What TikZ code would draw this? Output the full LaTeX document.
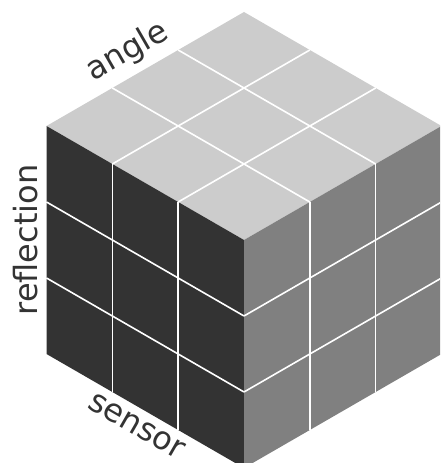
\documentclass[tikz,border=0pt]{standalone}
\usepackage{fontspec}
\setmainfont{DejaVu Sans}
\usetikzlibrary{calc}

\begin{document}
\begin{tikzpicture}[
  x=1pt, y=1pt,
  grid/.style={white, line width=1.6pt},
  lbl/.style={sloped, inner sep=0pt, text=black!80,
              font=\fontsize{32}{38}\selectfont}
]
  \clip (0,0) rectangle (440,463);

  %--- cube corners ---
  \coordinate (F)  at (244,223);   % front
  \coordinate (TL) at (46.5,337);
  \coordinate (TB) at (244,451);
  \coordinate (TR) at (441.5,337);
  \coordinate (BL) at (46.5,109);
  \coordinate (BF) at (244,-5);
  \coordinate (BR) at (441.5,109);

  %--- faces ---
  \fill[black!20] (F) -- (TL) -- (TB) -- (TR) -- cycle;
  \fill[black!80] (F) -- (TL) -- (BL) -- (BF) -- cycle;
  \fill[black!50] (F) -- (TR) -- (BR) -- (BF) -- cycle;

  %--- grid lines ---
  \foreach \t in {1/3,2/3} {
    % top
    \draw[grid] ($(F)!\t!(TL)$) -- ($(TR)!\t!(TB)$);
    \draw[grid] ($(F)!\t!(TR)$) -- ($(TL)!\t!(TB)$);
    % left
    \draw[grid] ($(F)!\t!(TL)$) -- ($(BF)!\t!(BL)$);
    \draw[grid] ($(F)!\t!(BF)$) -- ($(TL)!\t!(BL)$);
    % right
    \draw[grid] ($(F)!\t!(TR)$) -- ($(BF)!\t!(BR)$);
    \draw[grid] ($(F)!\t!(BF)$) -- ($(TR)!\t!(BR)$);
  }

  %--- axis labels ---
  \path (TL) -- (TB) node[lbl, pos=0.47, above=8pt] (angleLbl) {angle};
  \path (BL) -- (TL) node[lbl, pos=0.5, above=8pt] (reflLbl) {reflection};
  \path (BL) -- (BF) node[lbl, pos=0.5, below=8pt] (sensorLbl) {sensor};
\end{tikzpicture}
\end{document}
